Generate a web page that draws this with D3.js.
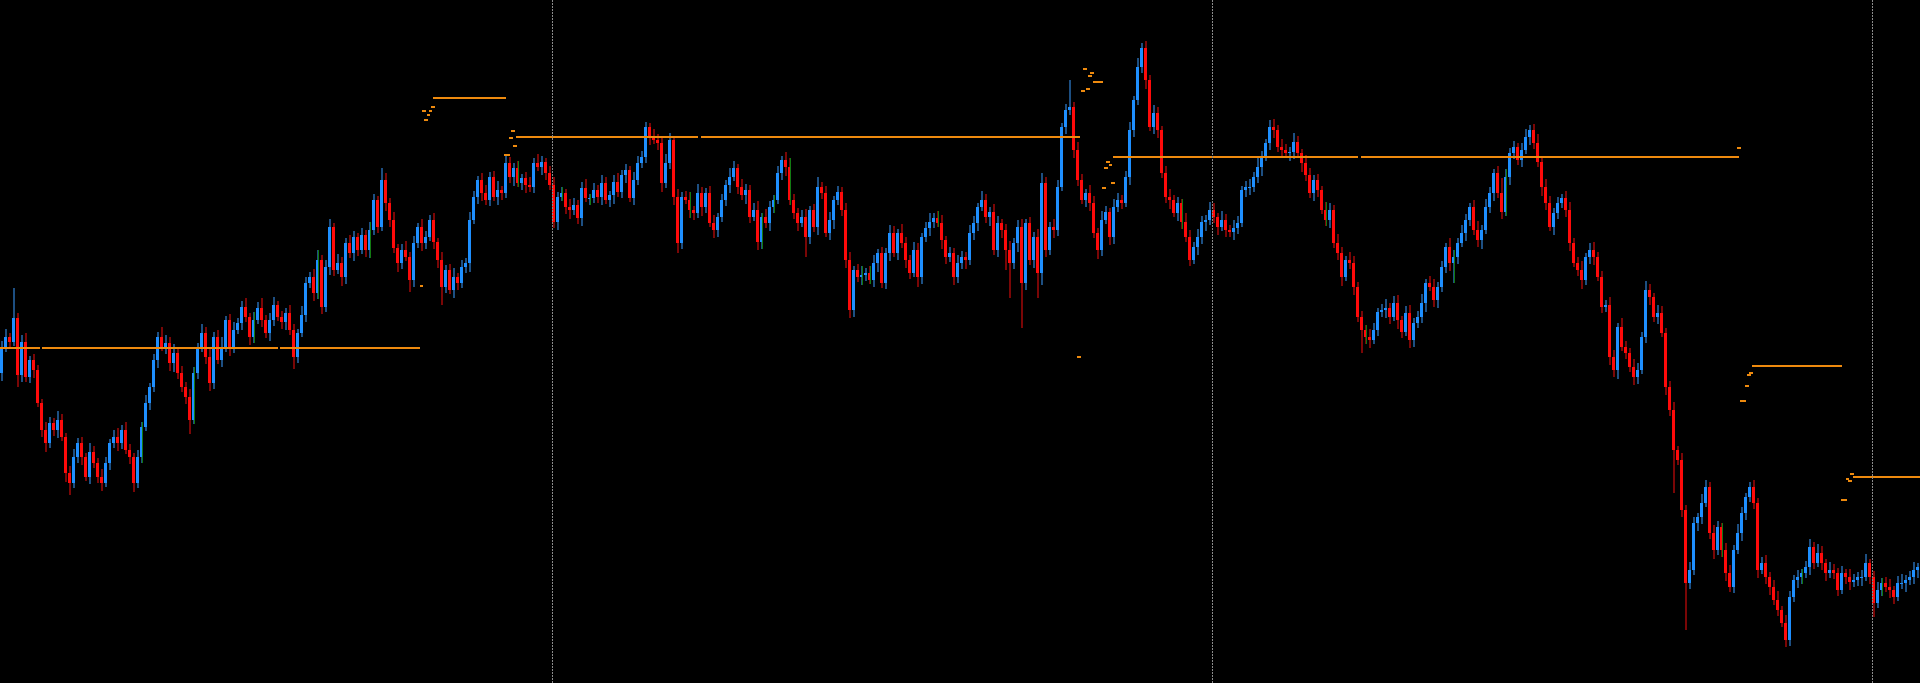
<!DOCTYPE html>
<html><head><meta charset="utf-8">
<script src="https://cdn.jsdelivr.net/npm/d3@7"></script>
<style>html,body{margin:0;padding:0;background:#000;overflow:hidden}svg{display:block}</style>
</head><body><svg id="chart" width="1920" height="683"></svg>
<script>
// ---- data (price units) ----
const firstOpen = 627;
const closes = [
653,663,658,682,625,658,623,640,630,597,
570,557,577,570,580,563,527,517,543,557,
543,523,548,537,523,517,537,557,563,557,
570,550,543,517,543,573,597,613,640,663,
653,657,637,647,627,613,603,580,627,653,
667,643,617,663,640,653,680,653,670,677,
693,683,663,680,692,680,667,680,695,683,
678,687,670,643,667,685,717,723,707,740,
693,733,773,730,737,723,757,747,763,750,
765,750,770,800,773,820,797,780,752,737,
750,743,720,757,773,757,763,780,758,740,
713,730,710,723,717,733,737,780,803,820,
807,800,823,803,810,807,837,823,832,817,
822,815,813,837,833,838,827,815,778,803,
807,793,790,795,782,812,802,802,810,803,
817,800,805,818,808,825,830,802,820,837,
843,873,863,860,857,817,837,860,803,757,
803,800,790,787,807,793,807,777,770,783,
800,815,823,832,813,805,810,783,790,758,
783,777,793,800,827,840,833,800,787,777,
783,763,790,773,813,807,767,780,800,808,
790,740,690,730,723,725,727,720,737,747,
717,747,767,747,767,757,740,727,750,723,
763,772,778,782,777,760,743,747,723,737,
743,740,767,777,793,800,783,788,750,777,
770,750,737,757,773,717,777,740,763,727,
817,750,773,770,813,873,890,893,850,820,
800,807,797,767,750,780,788,763,793,800,
797,823,870,900,933,952,920,873,887,870,
827,803,800,787,797,778,763,740,753,763,
778,780,790,783,773,780,770,768,772,777,
810,813,813,823,833,843,857,873,870,853,
850,847,848,858,847,837,825,807,820,810,
790,780,790,757,747,723,740,737,713,683,
670,663,660,670,688,690,692,683,697,680,
668,687,660,677,683,697,717,713,700,713,
733,753,737,743,757,767,780,793,770,760,
770,793,807,827,807,788,823,847,853,840,
850,863,870,857,838,813,797,773,787,797,
802,790,757,737,730,720,743,750,743,723,
693,695,643,630,673,653,647,633,623,630,
663,710,703,683,687,667,613,590,550,540,
490,417,430,477,483,497,513,467,450,473,
450,427,413,450,467,487,503,513,497,430,
437,423,413,400,390,377,360,403,420,423,
427,433,453,437,447,437,427,430,427,410,
427,423,418,420,423,423,437,423,397,410,
417,413,410,403,417,417,420,423,430,433
];
const upperWicks = [
6,8,4,30,5,7,9,4,6,5, 4,8,6,5,9,6,4,7,8,5, 6,4,9,6,5,8,6,4,7,9, 5,8,6,4,7,5,8,4,6,5, 10,8,6,9,4,7,5,8,6,4, 9,6,8,5,7,10,4,6,8,5, 6,9,4,8,6,10,5,7,8,4, 6,5,8,6,4,9,6,5,8,10,
5,7,8,4,9,6,5,8,6,4, 7,5,8,6,4,12,7,5,8,4, 6,9,5,7,4,8,6,5,7,4, 8,5,6,9,4,7,5,8,6,4, 7,8,5,6,9,4,8,6,5,7, 4,6,8,5,9,6,4,7,8,5, 6,4,8,7,5,6,9,4,7,5, 8,6,4,7,9,5,6,4,8,7,
6,5,4,8,6,5,9,7,4,8, 5,6,8,4,9,6,5,7,8,4, 6,5,9,7,4,8,6,5,7,9, 4,8,6,5,7,4,8,9,6,5, 7,8,4,6,10,5,7,8,4,6, 5,7,8,4,6,9,5,7,8,4, 6,5,8,7,4,9,6,5,8,7, 4,6,9,5,7,8,4,6,5,8,
6,5,8,7,4,9,6,5,8,7, 4,6,9,5,7,8,4,6,5,8, 10,6,5,8,7,4,6,27,5,8, 6,4,8,7,5,9,6,4,8,7, 5,6,8,4,9,5,7,5,8,6, 4,7,8,5,6,4,9,7,5,8, 6,5,8,7,4,9,6,5,8,7, 4,6,8,5,9,6,4,7,8,5,
8,6,5,9,6,4,8,7,5,6, 4,8,7,5,9,6,4,8,7,5, 6,5,8,7,4,6,9,5,7,8, 4,7,8,5,6,9,4,7,8,5, 6,4,9,7,5,8,6,4,7,9, 5,8,6,4,7,15,8,5,6,4, 7,8,5,6,9,4,8,7,5,6, 4,7,8,5,6,9,4,7,8,5,
6,5,8,7,4,9,6,5,8,7, 5,9,6,4,8,7,5,6,8,4, 7,5,8,6,4,9,7,5,8,6, 4,7,8,5,9,6,4,5,7,5, 6,8,5,7,9,4,8,6,5,7, 4,6,8,5,9,7,4,8,6,5, 7,4,8,6,5,7,9,4,6,8, 5,6,8,4,7,9,5,6,8,4
];
const lowerWicks = [
8,5,6,4,12,7,5,6,8,4, 7,9,5,6,8,4,9,12,5,6, 8,4,7,5,6,8,4,7,5,8, 6,4,7,9,5,6,4,7,5,8, 4,7,8,9,6,5,7,14,4,6, 5,7,8,6,4,7,5,9,6,4, 7,5,8,6,4,7,5,8,6,4, 7,8,5,12,6,4,7,5,8,6,
7,5,8,6,4,9,7,5,8,6, 4,7,8,5,6,4,8,7,5,9, 6,4,12,7,5,8,6,4,7,8, 18,6,4,8,7,5,6,9,4,7, 8,5,6,4,8,7,5,6,9,4, 7,8,5,6,4,8,7,5,6,8, 4,7,9,5,6,8,4,7,5,6, 8,4,7,9,5,6,8,4,7,5,
5,6,8,4,7,9,5,6,8,10, 6,4,8,7,5,9,6,4,8,7, 5,6,8,4,7,5,9,6,4,8, 7,5,8,6,4,7,9,5,6,8, 4,20,7,5,8,6,4,7,9,5, 6,8,8,7,5,8,6,4,7,9, 5,6,8,4,7,5,8,6,4,10, 7,5,8,6,4,9,7,5,8,6,
6,9,5,7,8,4,6,9,5,7, 8,20,35,6,9,45,7,5,8,25, 12,7,5,8,6,4,7,5,8,6, 4,7,8,5,9,6,4,8,7,5, 6,4,8,7,5,6,9,4,7,8, 5,6,9,4,8,7,5,6,4,8, 7,9,5,6,8,4,7,5,8,6, 4,7,8,5,6,9,4,7,8,5,
6,5,8,7,4,9,6,5,8,7, 4,6,8,5,7,9,4,6,8,5, 23,7,8,4,6,5,8,7,4,9, 6,4,8,7,5,6,9,4,7,8, 5,6,8,20,7,4,8,6,5,7, 9,4,6,8,5,7,4,8,6,5, 7,4,8,6,5,9,7,4,8,6, 5,7,8,4,6,9,5,7,8,4,
6,5,8,7,9,4,6,5,8,7, 4,6,8,5,7,4,8,6,43,5, 7,47,6,5,8,7,4,6,9,5, 7,8,5,6,4,8,7,5,6,8, 4,7,8,5,6,4,7,6,5,8, 7,5,8,6,4,7,8,5,6,6, 4,7,8,5,6,9,4,7,14,5, 6,5,8,7,4,6,9,5,7,8
];
const dojiIndex = [35,48,63,79,92,129,140,147,172,190,193,197,215,217,234,295,331,341,363,376,430,450,470];
const separatorIndex = [138, 303, 468];
// horizontal level segments
const levelStart = [0, 10.4, 69.9, 108.25, 129, 175.25, 278.25, 340.25, 438, 463.25, 273.25];
const levelEnd   = [10.1, 69.6, 105, 126.5, 174.5, 270, 339.5, 434.75, 460.5, 480, 275.75];
const levelPrice = [652.3, 652.3, 652.3, 902.5, 862.7, 862.7, 843.5, 843.5, 634.3, 523.3, 918.3];
// small level marks
const markStart = [105.6,107.75,106.7,106.1,107.25, 127.75,127.25,128.3,126.1, 105, 270.8,272.6,272.1,270.25,271.5, 276.4,277.25,276,275.4,277.75, 269.25, 434.25, 437.3,436.75,436.2,435, 462.5,461.4,462,460.25];
const markEnd   = [106.4,108.7,107.5,106.9,108.1, 128.75,128.2,129.3,127.5, 105.8, 271.75,273.5,273,271.25,272.4, 277.5,278.1,276.9,276.4,278.75, 270.25, 435.25, 438.3,437.7,437.2,436.6, 463.4,462.3,462.9,461.75];
const markPrice = [889.3,893.3,885,880.3,889.3, 869,862.3,854,845, 714, 931,927,924.3,909,911, 838.3,835,832.3,812.3,817.3, 643, 852, 627.3,625.3,614.3,599, 526.3,521.3,519,500];

// ---- build ----
const W = 1920, H = 683;
const candles = closes.map((c, i) => {
  const o = i === 0 ? firstOpen : closes[i - 1];
  return { i, open: o, close: c,
    high: Math.max(o, c) + (upperWicks[i] || 0),
    low: Math.min(o, c) - (lowerWicks[i] || 0) };
});
const x = d3.scaleLinear().domain([0, closes.length]).range([0, W]);
const y = d3.scaleLinear().domain([317, 1000]).range([H, 0]);
const step = x(1) - x(0);

const svg = d3.select('#chart');
svg.append('rect').attr('width', W).attr('height', H).attr('fill', '#000');

const g = svg.append('g').attr('shape-rendering', 'crispEdges');

// period separators
svg.append('g').selectAll('line').data(separatorIndex).join('line')
  .attr('x1', d => Math.round(x(d)) + 0.5).attr('x2', d => Math.round(x(d)) + 0.5)
  .attr('y1', 0).attr('y2', H)
  .attr('stroke', '#8a8a8a').attr('stroke-width', 1).attr('stroke-dasharray', '2,1');

const up = d => d.close >= d.open;
// wicks
g.append('g').selectAll('rect').data(candles).join('rect')
  .attr('x', d => x(d.i) + 0.5).attr('width', 2)
  .attr('y', d => y(d.high)).attr('height', d => Math.max(1, y(d.low) - y(d.high)))
  .attr('fill', d => up(d) ? '#1d4f82' : '#7a0606');
// bodies
g.append('g').selectAll('rect').data(candles).join('rect')
  .attr('x', d => x(d.i)).attr('width', step - 1)
  .attr('y', d => y(Math.max(d.open, d.close)))
  .attr('height', d => Math.max(1, Math.abs(y(d.open) - y(d.close))))
  .attr('fill', d => up(d) ? '#1e8fff' : '#ff0a0a');
// doji marks
g.append('g').selectAll('rect').data(dojiIndex.map(k => candles[k])).join('rect')
  .attr('x', d => x(d.i) + step / 2).attr('width', 1)
  .attr('y', d => y(d.high)).attr('height', d => y(d.low) - y(d.high))
  .attr('fill', '#127a12');

// horizontal levels
const lv = levelStart.map((s, k) => ({ s, e: levelEnd[k], p: levelPrice[k] }));
g.append('g').selectAll('rect').data(lv).join('rect')
  .attr('x', d => x(d.s)).attr('width', d => x(d.e) - x(d.s))
  .attr('y', d => y(d.p) - 1).attr('height', 2)
  .attr('fill', '#ee8a0e');
const mk = markStart.map((s, k) => ({ s, e: markEnd[k], p: markPrice[k] }));
g.append('g').selectAll('rect').data(mk).join('rect')
  .attr('x', d => x(d.s)).attr('width', d => Math.max(3, x(d.e) - x(d.s)))
  .attr('y', d => y(d.p) - 1).attr('height', 2)
  .attr('fill', '#ee8a0e');
</script></body></html>
